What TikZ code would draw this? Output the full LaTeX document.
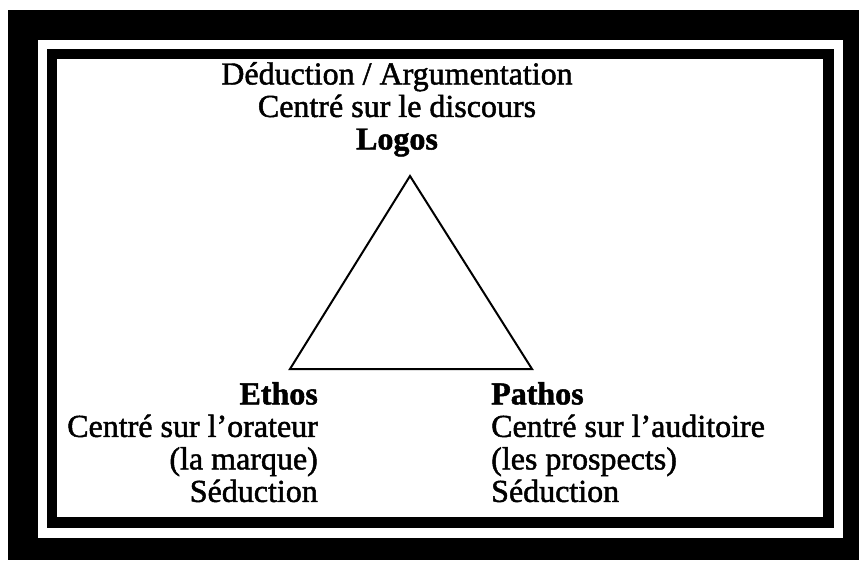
\documentclass[tikz,border=0pt]{standalone}
\usepackage{fontspec}
\setmainfont{Liberation Serif}[FakeBold=1.5]
\usetikzlibrary{positioning}
\tikzset{
  cadre/.style={fill=black},
  fond/.style={fill=white},
  cote/.style={draw=black, line width=2pt, line join=miter},
  bloc/.style={inner sep=0pt, font=\fontsize{32}{32.5}\selectfont}
}

\begin{document}
\begin{tikzpicture}[x=1pt, y=-1pt]
  \useasboundingbox (0,0) rectangle (859,560);
  \fill[white] (0,0) rectangle (859,560);
  % double cadre
  \fill[cadre] (8,10) rectangle (859,560);
  \fill[fond] (38,40) rectangle (843,538);
  \fill[cadre] (47,49) rectangle (834,528);
  \fill[fond] (57,59) rectangle (823,517);
  % triangle
  \coordinate (sommet) at (410,176);
  \coordinate (gauche) at (290,369);
  \coordinate (droite) at (532,369);
  \draw [cote] (sommet) -- (gauche) -- (droite) -- cycle;
  % textes
  \node (logos) [bloc, align=center, anchor=north] at (397,62) {Déduction / Argumentation\\ Centré sur le discours\\ \textbf{Logos}};
  \node (ethos) [bloc, align=right, anchor=north east] at (318,382) {\textbf{Ethos}\\ Centré sur l'orateur\\ (la marque)\\ Séduction};
  \node (pathos) [bloc, align=left, anchor=north west] at (491,382) {\textbf{Pathos}\\ Centré sur l'auditoire\\ (les prospects)\\ Séduction};
\end{tikzpicture}
\end{document}
